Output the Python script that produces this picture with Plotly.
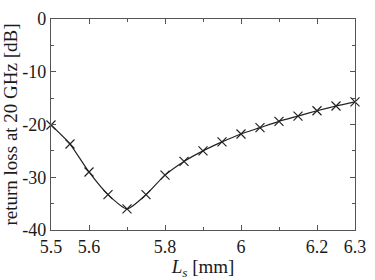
import plotly.graph_objects as go

ls_mm = [5.50, 5.55, 5.60, 5.65, 5.70, 5.75, 5.80, 5.85, 5.90, 5.95,
         6.00, 6.05, 6.10, 6.15, 6.20, 6.25, 6.30]
return_loss_db = [-20.1, -23.7, -29.0, -33.3, -36.0, -33.3, -29.6, -27.0, -25.0, -23.3,
                  -21.8, -20.6, -19.4, -18.4, -17.4, -16.5, -15.7]

x_tickvals = [5.5, 5.6, 5.8, 6.0, 6.2, 6.3]
x_ticktext = ["5.5", "5.6", "5.8", "6", "6.2", "6.3"]
x_minor = [5.7, 5.9, 6.1]
y_tickvals = [0, -10, -20, -30, -40]
y_ticktext = ["0", "-10", "-20", "-30", "-40"]
y_minor = [-5, -15, -25, -35]

FONT = "Liberation Serif"
AX = "#555555"
TXT = "#1a1a1a"

fig = go.Figure()
fig.add_trace(go.Scatter(
    x=ls_mm, y=return_loss_db, mode="lines+markers",
    line=dict(color="#222222", width=1.2, shape="spline", smoothing=0.6),
    marker=dict(symbol="x-thin", size=9, line=dict(color="#222222", width=1.2)),
    showlegend=False, cliponaxis=False,
))

common = dict(showline=True, linecolor=AX, linewidth=1.2, mirror="ticks",
              ticks="inside", ticklen=5, tickwidth=1, tickcolor=AX,
              showgrid=False, zeroline=False, ticklabeloverflow="allow",
              tickfont=dict(family=FONT, size=18, color=TXT))

fig.update_xaxes(range=[5.5, 6.3], tickmode="array", tickvals=x_tickvals, ticktext=x_ticktext,
                 minor=dict(tickmode="array", tickvals=x_minor, ticks="inside", ticklen=3,
                            tickcolor=AX, tickwidth=1),
                 title=dict(text="<i>L<sub>s</sub></i> [mm]", font=dict(family=FONT, size=19, color=TXT),
                            standoff=1),
                 **common)
fig.update_yaxes(range=[-40, 0], tickmode="array", tickvals=y_tickvals, ticktext=y_ticktext,
                 minor=dict(tickmode="array", tickvals=y_minor, ticks="inside", ticklen=3,
                            tickcolor=AX, tickwidth=1),
                 title=dict(text="return loss at 20 GHz [dB]", font=dict(family=FONT, size=19, color=TXT),
                            standoff=0),
                 **common)

fig.update_layout(width=375, height=280, margin=dict(l=49, r=11, t=9, b=46),
                  plot_bgcolor="white", paper_bgcolor="white")

fig.write_html("out.html")
